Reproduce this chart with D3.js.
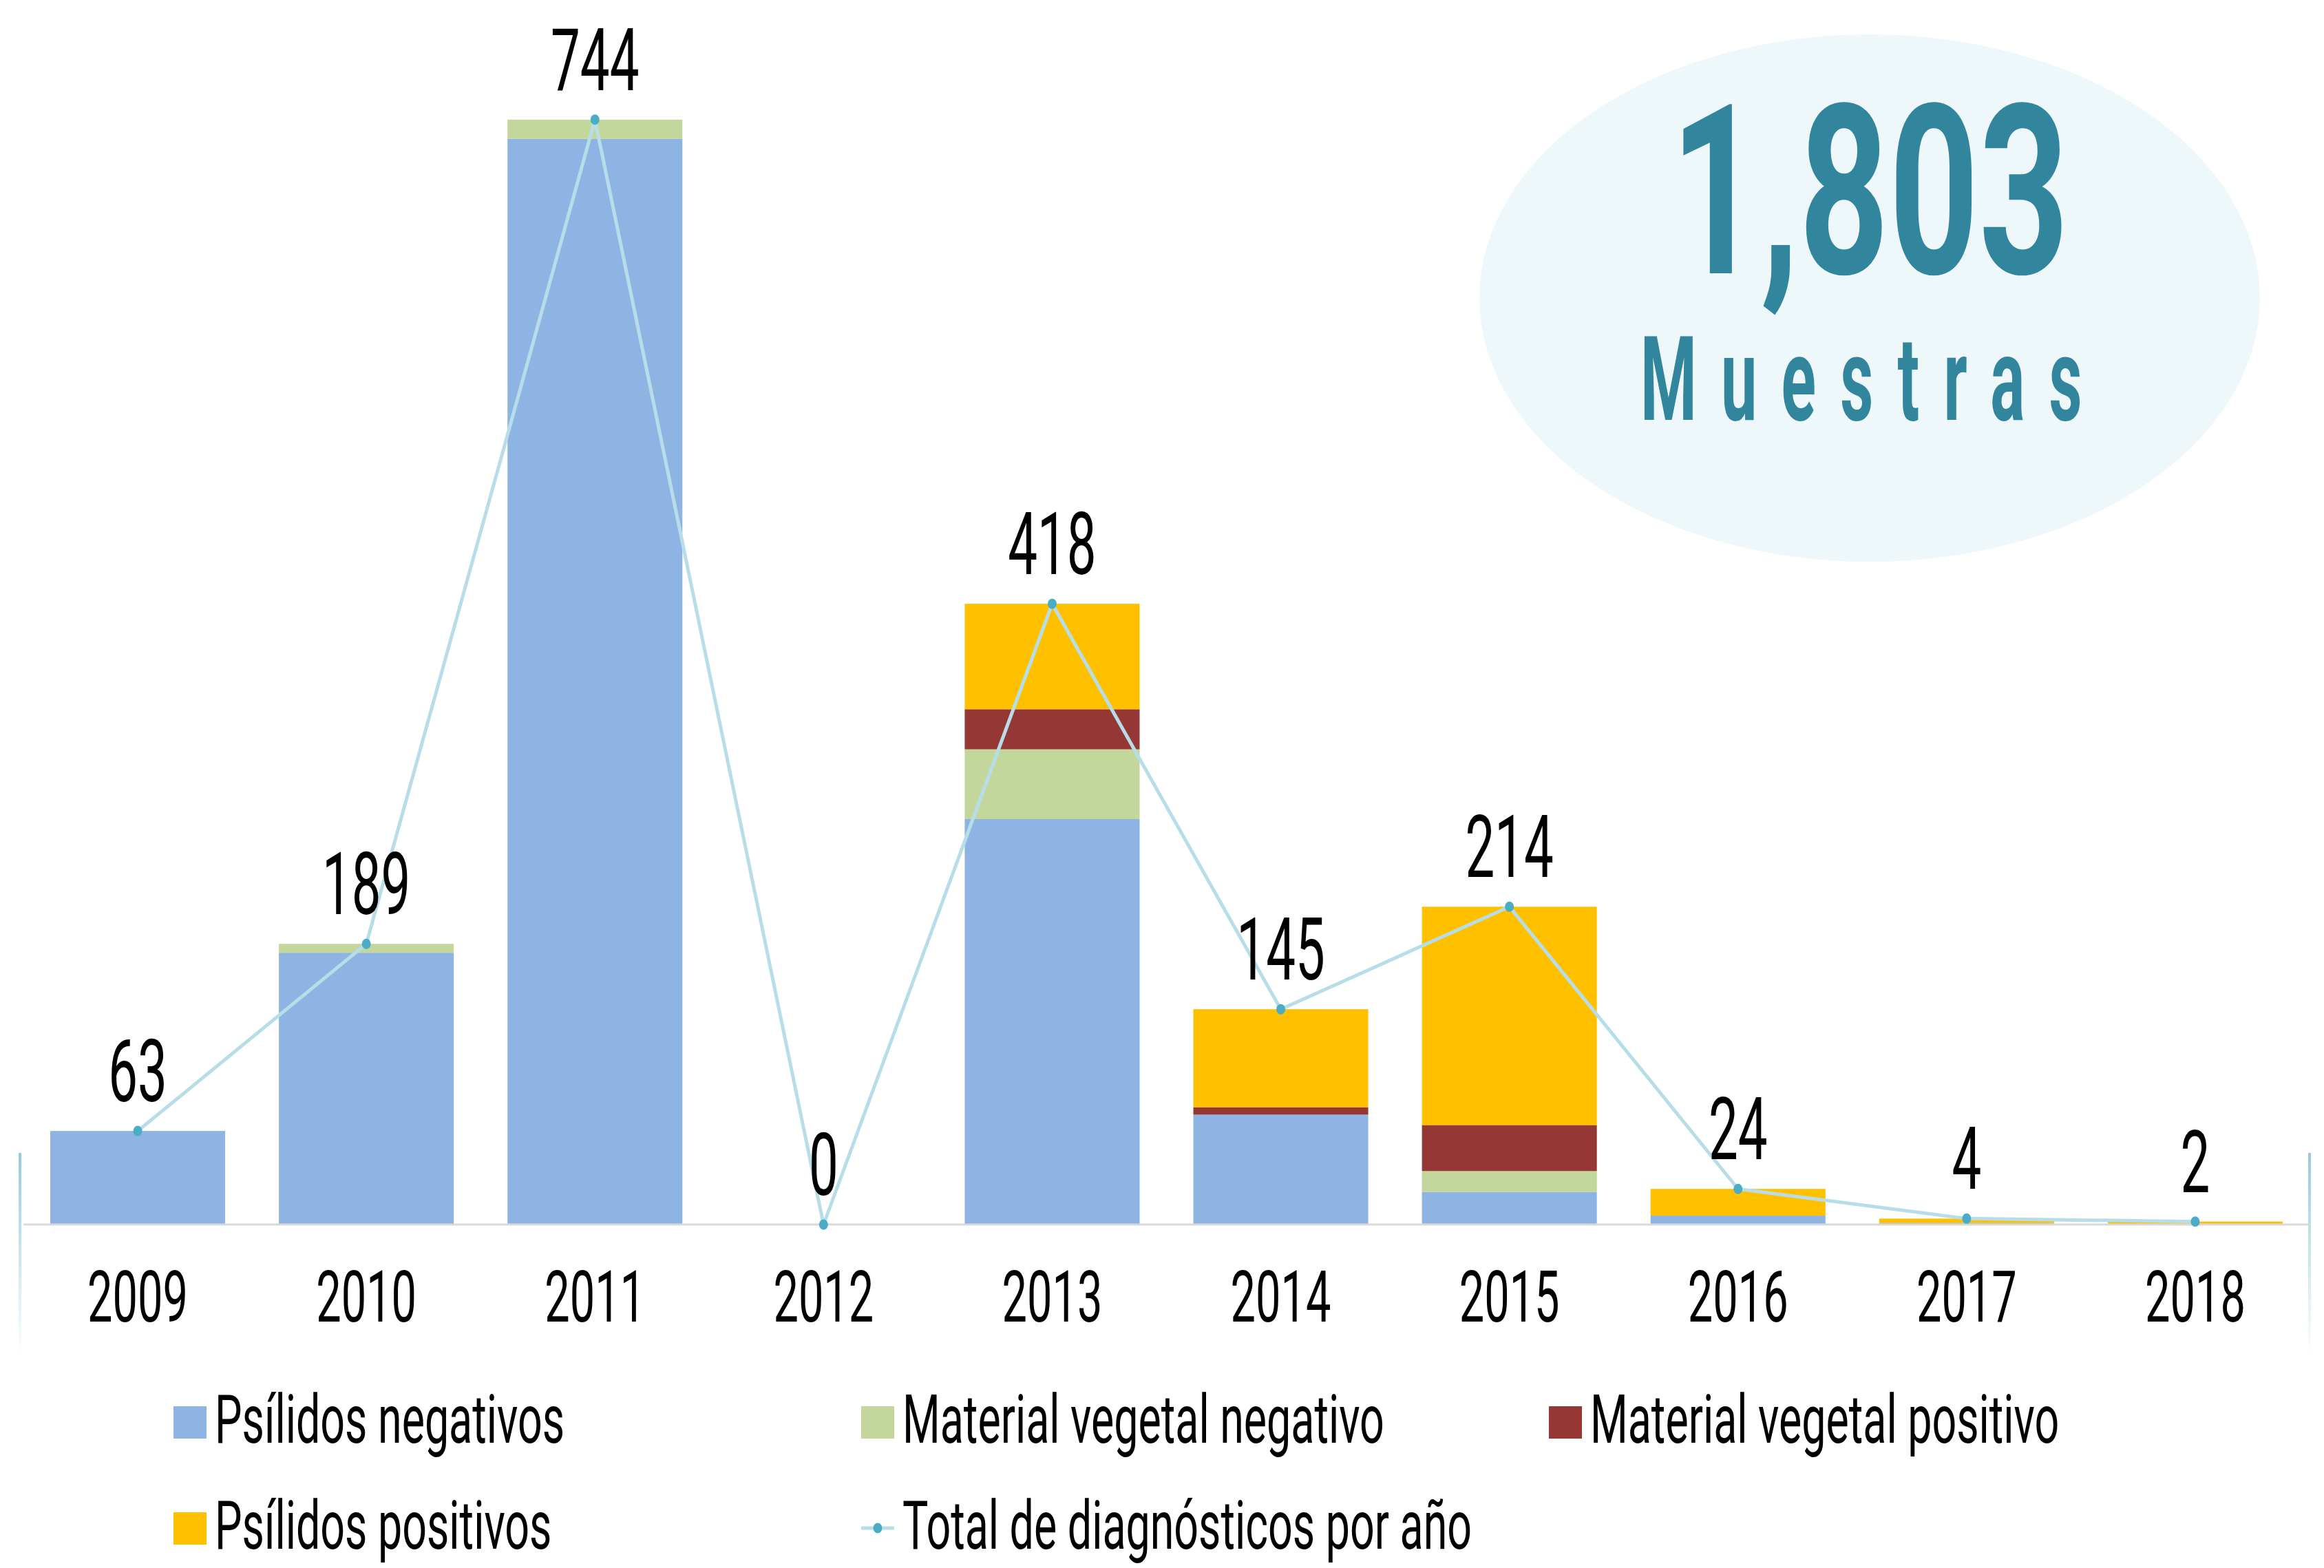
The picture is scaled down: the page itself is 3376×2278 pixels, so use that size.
<!DOCTYPE html>
<html>
<head>
<meta charset="utf-8">
<script src="https://cdn.jsdelivr.net/npm/d3@7"></script>
<style>
  body { margin: 0; background: #fff; }
  text { font-family: Roboto, "DejaVu Sans", sans-serif; }
</style>
</head>
<body>
<div id="chart"></div>
<script>
var years = ["2009", "2010", "2011", "2012", "2013", "2014", "2015", "2016", "2017", "2018"];
var psilidosNeg = [63, 183, 731, 0, 273, 74, 22, 6, 1, 0];
var materialNeg = [0, 6, 13, 0, 47, 0, 14, 0, 0, 0];
var materialPos = [0, 0, 0, 0, 27, 5, 31, 0, 0, 0];
var psilidosPos = [0, 0, 0, 0, 71, 66, 147, 18, 3, 2];
var totals = [63, 189, 744, 0, 418, 145, 214, 24, 4, 2];
var seriesNames = ["Psílidos negativos", "Material vegetal negativo", "Material vegetal positivo", "Psílidos positivos"];
var lineName = "Total de diagnósticos por año";
var totalLabel = "1,803";
var totalSub = "Muestras";

var width = 3376, height = 2278;
var colors = ["#8eb4e3", "#c3d69b", "#953735", "#ffc000"];

var svg = d3.select("#chart").append("svg")
  .attr("width", width)
  .attr("height", height);

var x = d3.scaleBand()
  .domain(years)
  .range([34, 3355])
  .paddingInner(0.235)
  .paddingOuter(0.1175);

var y = d3.scaleLinear()
  .domain([0, 800])
  .range([1779, 53]);

// condensed look: plain font squeezed horizontally
function condText(parent, px, py, str, size, sx, anchor) {
  var g = parent.append("g")
    .attr("transform", "translate(" + px + "," + py + ") scale(" + sx + ",1)");
  return g.append("text")
    .attr("text-anchor", anchor || "middle")
    .style("font-size", size + "px")
    .text(str);
}

// bubble with total
svg.append("ellipse")
  .attr("cx", 2716).attr("cy", 433)
  .attr("rx", 567).attr("ry", 383)
  .style("fill", "#eef7f9");

condText(svg, 2716, 397, totalLabel, 345, 0.66, "middle")
  .style("font-weight", "bold")
  .style("fill", "#31859c");

condText(svg, 2383, 610, totalSub, 170, 0.55, "start")
  .style("font-weight", "bold")
  .style("letter-spacing", "64px")
  .style("fill", "#31859c");

// decorative side lines
var grad = svg.append("defs").append("linearGradient")
  .attr("id", "fade")
  .attr("x1", 0).attr("y1", 0).attr("x2", 0).attr("y2", 1);
grad.append("stop").attr("offset", "0%").attr("stop-color", "#92cddc").attr("stop-opacity", 1);
grad.append("stop").attr("offset", "100%").attr("stop-color", "#92cddc").attr("stop-opacity", 0);

[29, 3355].forEach(function (lx) {
  svg.append("rect")
    .attr("x", lx - 2).attr("y", 1675)
    .attr("width", 4).attr("height", 295)
    .style("fill", "url(#fade)");
});

// stacked bars
var rows = years.map(function (yr, i) {
  return { year: yr, a: psilidosNeg[i], b: materialNeg[i], c: materialPos[i], d: psilidosPos[i] };
});
var stack = d3.stack().keys(["a", "b", "c", "d"])(rows);

svg.selectAll(".serie")
  .data(stack)
  .enter().append("g")
  .attr("class", "serie")
  .style("fill", function (d, i) { return colors[i]; })
  .selectAll("rect")
  .data(function (d) { return d; })
  .enter().append("rect")
  .attr("x", function (d) { return x(d.data.year); })
  .attr("width", x.bandwidth())
  .attr("y", function (d) { return y(d[1]); })
  .attr("height", function (d) { return y(d[0]) - y(d[1]); });

// axis
svg.append("line")
  .attr("x1", 34).attr("x2", 3355)
  .attr("y1", y(0)).attr("y2", y(0))
  .style("stroke", "#d9d9d9")
  .style("stroke-width", 3);

years.forEach(function (yr) {
  condText(svg, x(yr) + x.bandwidth() / 2, 1920, yr, 103, 0.63, "middle")
    .style("fill", "#000");
});

// total line
var line = d3.line()
  .x(function (d, i) { return x(years[i]) + x.bandwidth() / 2; })
  .y(function (d) { return y(d); });

svg.append("path")
  .datum(totals)
  .attr("d", line)
  .style("fill", "none")
  .style("stroke", "#b7dee8")
  .style("stroke-width", 5);

svg.selectAll(".dot")
  .data(totals)
  .enter().append("ellipse")
  .attr("class", "dot")
  .attr("cx", function (d, i) { return x(years[i]) + x.bandwidth() / 2; })
  .attr("cy", function (d) { return y(d); })
  .attr("rx", 6.5).attr("ry", 7.5)
  .style("fill", "#4bacc6");

totals.forEach(function (v, i) {
  condText(svg, x(years[i]) + x.bandwidth() / 2, y(v) - 43, v, 127, 0.6, "middle")
    .style("fill", "#000");
});

// legend
var legendItems = [
  { name: seriesNames[0], color: colors[0], col: 0, row: 0 },
  { name: seriesNames[1], color: colors[1], col: 1, row: 0 },
  { name: seriesNames[2], color: colors[2], col: 2, row: 0 },
  { name: seriesNames[3], color: colors[3], col: 0, row: 1 },
  { name: lineName, line: true, col: 1, row: 1 }
];
var colX = [252, 1251, 2250];
var rowY = [2066, 2220];

legendItems.forEach(function (it) {
  var lx = colX[it.col], ly = rowY[it.row];
  if (it.line) {
    svg.append("line")
      .attr("x1", lx).attr("x2", lx + 48)
      .attr("y1", ly).attr("y2", ly)
      .style("stroke", "#b7dee8")
      .style("stroke-width", 5);
    svg.append("ellipse")
      .attr("cx", lx + 24).attr("cy", ly)
      .attr("rx", 6.5).attr("ry", 7.5)
      .style("fill", "#4bacc6");
  } else {
    svg.append("rect")
      .attr("x", lx).attr("y", ly - 23)
      .attr("width", 48).attr("height", 47)
      .style("fill", it.color);
  }
  condText(svg, lx + 60, ly + 30, it.name, 98, 0.64, "start")
    .style("fill", "#000");
});
</script>
</body>
</html>
